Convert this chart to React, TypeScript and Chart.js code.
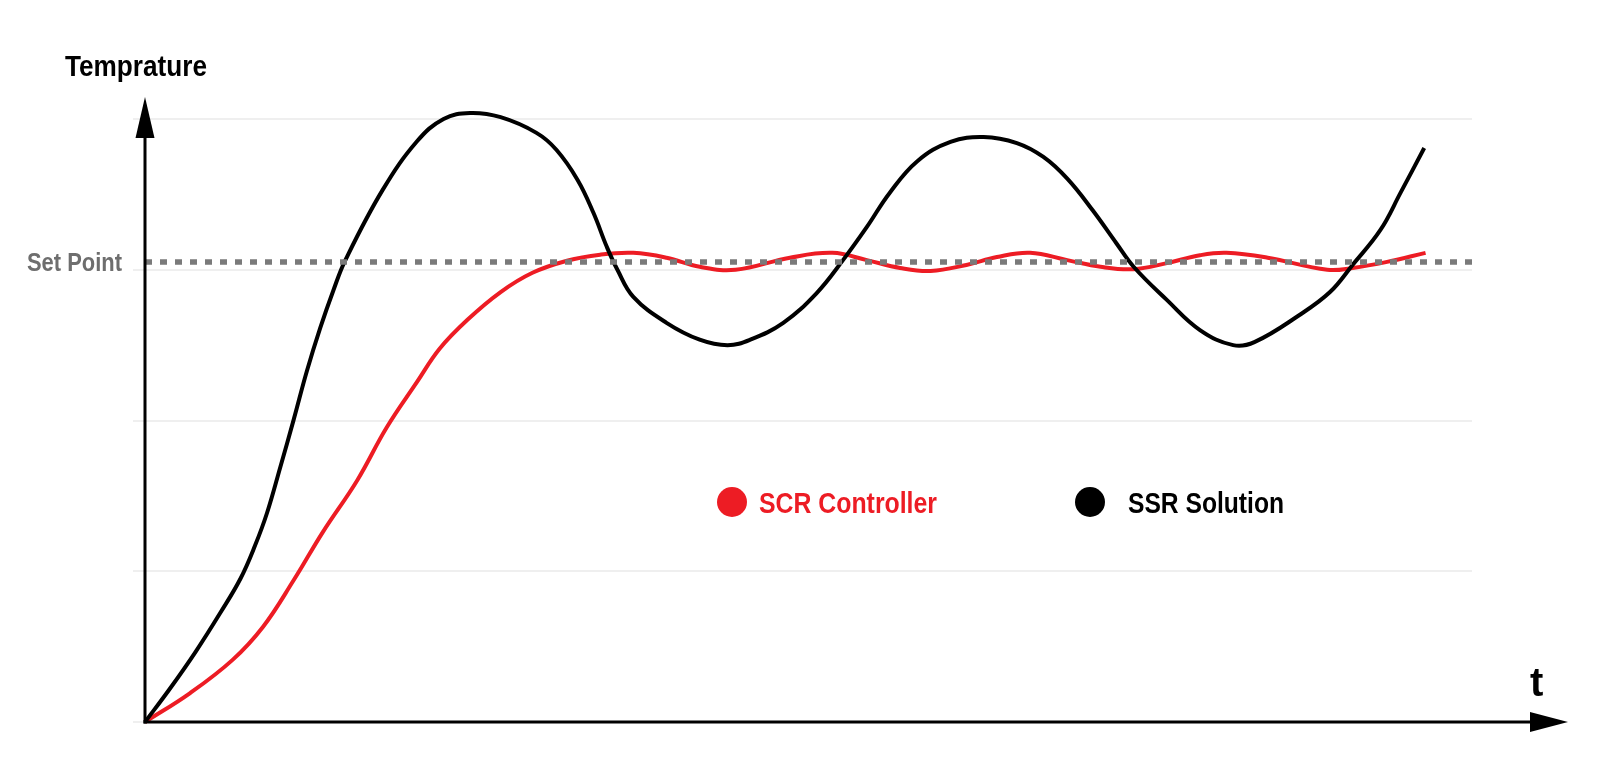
import React, { useEffect, useRef } from 'react';
import { Chart, registerables } from 'chart.js';

Chart.register(...registerables);

// ---- Data (time t: 0..100, temperature: 0..100) ----
const ssrTime = [0, 1.9, 3.8, 5.7, 7.2, 8.3, 9.2, 10.2, 11.2, 12.2, 13.2, 14.2, 15.1, 17.9, 20.5, 22.5, 24.5, 26.8, 29.5, 31.0, 32.6, 33.8, 34.8, 35.6, 36.8, 39.3, 41.8, 43.9, 45.6, 48.1, 50.6, 52.6, 54.4, 56.1, 58.2, 60.7, 63.2, 65.7, 67.7, 69.5, 71.4, 73.2, 74.5, 77.0, 79.5, 82.0, 83.6, 87.0, 89.3, 91.0, 93.1, 94.6, 96.4];
const ssrTemp = [0, 5.6, 11.6, 18.2, 23.8, 29.3, 34.7, 42.3, 50.1, 58.2, 65.3, 71.6, 76.6, 88.2, 96.3, 100.0, 101.0, 100.3, 97.7, 94.9, 89.9, 84.4, 78.8, 75.0, 70.5, 66.2, 63.4, 62.5, 63.4, 66.2, 71.1, 76.6, 82.1, 87.7, 93.0, 96.2, 97.0, 96.0, 93.7, 90.1, 84.9, 79.4, 75.5, 70.0, 65.0, 62.5, 63.0, 67.5, 71.3, 75.8, 81.6, 87.7, 95.2];

const scrTime = [0, 3.4, 6.6, 8.9, 11.2, 13.4, 16.0, 18.2, 20.5, 22.2, 24.3, 26.8, 29.2, 31.8, 34.3, 36.8, 39.3, 41.8, 44.5, 48.6, 51.8, 54.4, 56.9, 59.2, 61.9, 64.2, 66.7, 69.5, 72.0, 74.5, 77.0, 79.5, 81.5, 84.6, 89.1, 91.0, 93.6, 96.5];
const scrTemp = [0, 4.8, 10.3, 15.8, 23.5, 31.5, 40.1, 48.8, 56.4, 61.9, 66.7, 71.3, 74.5, 76.5, 77.5, 77.8, 77.0, 75.5, 75.0, 77.0, 77.8, 76.6, 75.3, 74.8, 75.8, 77.1, 77.8, 76.6, 75.5, 75.1, 76.1, 77.4, 77.8, 77.0, 75.0, 75.3, 76.3, 77.8];

const setPointValue = 76.3;
const setPointSpan = [0, 100];
const yGridValues = [0, 25, 50, 75, 100];
const seriesNames = ['SCR Controller', 'SSR Solution'];
const seriesColors = ['#ed1c24', '#000000'];
const yAxisLabel = 'Temprature';
const xAxisLabel = 't';
const setPointLabel = 'Set Point';

const FONT = "'Liberation Sans', Arial, sans-serif";

const decorPlugin = {
  id: 'decor',
  afterDraw(chart: any) {
    const { ctx, chartArea } = chart;
    const x = chart.scales.x;
    const y = chart.scales.y;
    const ox = x.getPixelForValue(0);
    const oy = y.getPixelForValue(0);
    const top = chartArea.top;
    const right = chartArea.right;
    ctx.save();
    ctx.strokeStyle = '#000';
    ctx.fillStyle = '#000';
    ctx.lineWidth = 3;
    // y axis
    ctx.beginPath();
    ctx.moveTo(ox, oy + 1.5);
    ctx.lineTo(ox, top + 19);
    ctx.stroke();
    ctx.beginPath();
    ctx.moveTo(ox, top - 22);
    ctx.lineTo(ox - 9.5, top + 19);
    ctx.lineTo(ox + 9.5, top + 19);
    ctx.closePath();
    ctx.fill();
    // x axis
    ctx.beginPath();
    ctx.moveTo(ox - 1.5, oy);
    ctx.lineTo(right + 60, oy);
    ctx.stroke();
    ctx.beginPath();
    ctx.moveTo(right + 96, oy);
    ctx.lineTo(right + 58, oy - 10);
    ctx.lineTo(right + 58, oy + 10);
    ctx.closePath();
    ctx.fill();

    // texts
    ctx.textBaseline = 'alphabetic';
    ctx.textAlign = 'left';
    ctx.font = `bold 29px ${FONT}`;
    ctx.fillStyle = '#000';
    ctx.fillText(yAxisLabel, 65, top - 43, 142);

    ctx.font = `bold 40px ${FONT}`;
    ctx.fillText(xAxisLabel, right + 58, oy - 26);

    const sy = y.getPixelForValue(setPointValue);
    ctx.font = `bold 26px ${FONT}`;
    ctx.fillStyle = '#6e6e6e';
    ctx.textAlign = 'right';
    ctx.fillText(setPointLabel, 122, sy + 9, 95);

    // legend
    const legendY = 502;
    const items = [
      { cx: 732, tx: 759, w: 178 },
      { cx: 1090, tx: 1128, w: 156 },
    ];
    ctx.textAlign = 'left';
    ctx.font = `bold 29px ${FONT}`;
    items.forEach((it, i) => {
      ctx.fillStyle = seriesColors[i];
      ctx.beginPath();
      ctx.arc(it.cx, legendY, 15, 0, Math.PI * 2);
      ctx.fill();
      ctx.fillText(seriesNames[i], it.tx, legendY + 11, it.w);
    });
    ctx.restore();
  },
};

export default function App() {
  const ref = useRef<HTMLCanvasElement | null>(null);
  useEffect(() => {
    if (!ref.current) return;
    const chart = new Chart(ref.current, {
      type: 'line',
      data: {
        datasets: [
          {
            label: setPointLabel,
            data: setPointSpan.map((t) => ({ x: t, y: setPointValue })),
            borderColor: '#7a7a7a',
            borderWidth: 5.5,
            borderDash: [7, 8],
            borderCapStyle: 'butt',
            pointRadius: 0,
            tension: 0,
            order: 0,
            clip: false,
          },
          {
            label: seriesNames[1],
            data: ssrTime.map((t, i) => ({ x: t, y: ssrTemp[i] })),
            borderColor: seriesColors[1],
            borderWidth: 4,
            pointRadius: 0,
            tension: 0.4,
            order: 1,
            clip: false,
          },
          {
            label: seriesNames[0],
            data: scrTime.map((t, i) => ({ x: t, y: scrTemp[i] })),
            borderColor: seriesColors[0],
            borderWidth: 4,
            pointRadius: 0,
            tension: 0.4,
            order: 2,
            clip: false,
          },
        ] as any,
      },
      options: {
        animation: false,
        responsive: false,
        layout: { padding: { left: 133, right: 128, top: 119, bottom: 50 } },
        plugins: { legend: { display: false }, tooltip: { enabled: false } },
        scales: {
          x: { type: 'linear', min: 0, max: 100, display: false },
          y: {
            type: 'linear',
            min: 0,
            max: 100,
            afterBuildTicks: (scale: any) => {
              scale.ticks = yGridValues.map((v) => ({ value: v }));
            },
            ticks: { display: false },
            border: { display: false },
            grid: { color: '#efefef', lineWidth: 2, drawTicks: true, tickLength: 12 },
          },
        },
      },
      plugins: [decorPlugin],
    } as any);
    return () => chart.destroy();
  }, []);
  return (
    <div style={{ position: 'absolute', left: 0, top: 0, width: 1600, height: 772, background: '#fff' }}>
      <canvas ref={ref} width={1600} height={772} />
    </div>
  );
}
